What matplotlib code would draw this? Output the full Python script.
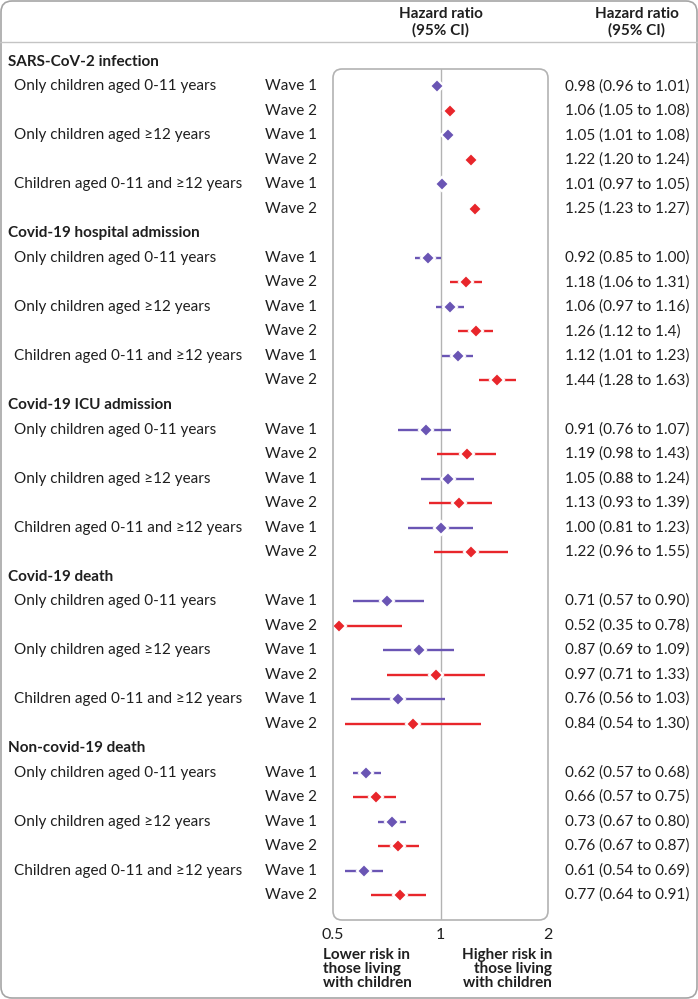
import matplotlib
matplotlib.use("Agg")
import matplotlib.pyplot as plt
from matplotlib.patches import FancyBboxPatch
from matplotlib.lines import Line2D
from matplotlib.ticker import NullLocator
import matplotlib.transforms as mtransforms

plt.rcParams['font.family'] = ['Lato', 'DejaVu Sans']

# ---- data ----
sections = ["SARS-CoV-2 infection", "Covid-19 hospital admission",
            "Covid-19 ICU admission", "Covid-19 death", "Non-covid-19 death"]
groups = ["Only children aged 0-11 years", "Only children aged \u226512 years",
          "Children aged 0-11 and \u226512 years"]
waves = ["Wave 1", "Wave 2"]

hr = [0.98, 1.06, 1.05, 1.22, 1.01, 1.25,
      0.92, 1.18, 1.06, 1.26, 1.12, 1.44,
      0.91, 1.19, 1.05, 1.13, 1.00, 1.22,
      0.71, 0.52, 0.87, 0.97, 0.76, 0.84,
      0.62, 0.66, 0.73, 0.76, 0.61, 0.77]
lo = [0.96, 1.05, 1.01, 1.20, 0.97, 1.23,
      0.85, 1.06, 0.97, 1.12, 1.01, 1.28,
      0.76, 0.98, 0.88, 0.93, 0.81, 0.96,
      0.57, 0.35, 0.69, 0.71, 0.56, 0.54,
      0.57, 0.57, 0.67, 0.67, 0.54, 0.64]
hi = [1.01, 1.08, 1.08, 1.24, 1.05, 1.27,
      1.00, 1.31, 1.16, 1.40, 1.23, 1.63,
      1.07, 1.43, 1.24, 1.39, 1.23, 1.55,
      0.90, 0.78, 1.09, 1.33, 1.03, 1.30,
      0.68, 0.75, 0.80, 0.87, 0.69, 0.91]
ci_text = ["0.98 (0.96 to 1.01)", "1.06 (1.05 to 1.08)", "1.05 (1.01 to 1.08)",
           "1.22 (1.20 to 1.24)", "1.01 (0.97 to 1.05)", "1.25 (1.23 to 1.27)",
           "0.92 (0.85 to 1.00)", "1.18 (1.06 to 1.31)", "1.06 (0.97 to 1.16)",
           "1.26 (1.12 to 1.4)", "1.12 (1.01 to 1.23)", "1.44 (1.28 to 1.63)",
           "0.91 (0.76 to 1.07)", "1.19 (0.98 to 1.43)", "1.05 (0.88 to 1.24)",
           "1.13 (0.93 to 1.39)", "1.00 (0.81 to 1.23)", "1.22 (0.96 to 1.55)",
           "0.71 (0.57 to 0.90)", "0.52 (0.35 to 0.78)", "0.87 (0.69 to 1.09)",
           "0.97 (0.71 to 1.33)", "0.76 (0.56 to 1.03)", "0.84 (0.54 to 1.30)",
           "0.62 (0.57 to 0.68)", "0.66 (0.57 to 0.75)", "0.73 (0.67 to 0.80)",
           "0.76 (0.67 to 0.87)", "0.61 (0.54 to 0.69)", "0.77 (0.64 to 0.91)"]

wave_colors = ["#6a55b4", "#e8262b"]
txt = "#1f1f1f"
grey = "#b3b3b3"

W, H = 698, 999
fig = plt.figure(figsize=(W / 100, H / 100), dpi=100)
fig.patch.set_facecolor("white")

# plot panel
ax = fig.add_axes([333 / W, 1 - 920 / H, 215 / W, 851 / H])
ax.set_xscale("log")
ax.set_xlim(0.5, 2)
ax.set_ylim(35.02, 0.286)
for s in ax.spines.values():
    s.set_visible(False)
ax.set_yticks([])
ax.set_xticks([0.5, 1, 2])
ax.set_xticklabels(["0.5", "1", "2"])
ax.xaxis.set_minor_locator(NullLocator())
ax.tick_params(axis="x", length=0, pad=6, labelsize=11.5, labelcolor=txt)
ax.axvline(1, color=grey, lw=1, zorder=1)

box = FancyBboxPatch((333 / W, 1 - 920 / H), 215 / W, 851 / H, transform=fig.transFigure,
                     boxstyle=f"round,pad=0,rounding_size={9 / W}", mutation_aspect=W / H,
                     fc="none", ec=grey, lw=1.2)
fig.add_artist(box)

# outer frame and header rule
frame = FancyBboxPatch((1 / W, 1 / H), (W - 2) / W, (H - 2) / H, transform=fig.transFigure,
                       boxstyle=f"round,pad=0,rounding_size={11 / W}", mutation_aspect=W / H,
                       fc="none", ec="#a5a5a5", lw=1.2)
fig.add_artist(frame)
fig.add_artist(Line2D([0, 1], [1 - 42 / H, 1 - 42 / H], transform=fig.transFigure,
                      color="#c4c4c4", lw=1))

trans = mtransforms.blended_transform_factory(fig.transFigure, ax.transData)

k = 0
for si, sec in enumerate(sections):
    base = 7 * si
    ax.text(8 / W, base, sec, transform=trans, fontsize=11, fontweight="bold",
            color=txt, va="center", ha="left")
    for gi, grp in enumerate(groups):
        for wi, wv in enumerate(waves):
            y = base + 1 + gi * 2 + wi
            if wi == 0:
                ax.text(14 / W, y, grp, transform=trans, fontsize=11, color=txt,
                        va="center", ha="left")
            ax.text(265 / W, y, wv, transform=trans, fontsize=11, color=txt,
                    va="center", ha="left")
            ax.text(565 / W, y, ci_text[k], transform=trans, fontsize=11, color=txt,
                    va="center", ha="left")
            c = wave_colors[wi]
            ax.plot([lo[k], hi[k]], [y, y], color=c, lw=1.7, solid_capstyle="butt", zorder=2)
            ax.plot([hr[k]], [y], marker="D", ms=7, color=c, mec="white", mew=1.6, zorder=3,
                    clip_on=False)
            k += 1

# column headers
for xc in (441, 637):
    fig.text(xc / W, 1 - 22 / H, "Hazard ratio\n(95% CI)", ha="center", va="center",
             fontsize=11, fontweight="bold", color=txt, linespacing=1.15)

# axis direction notes
fig.text(323 / W, 1 - 969 / H, "Lower risk in\nthose living\nwith children", ha="left",
         va="center", fontsize=11, fontweight="bold", color=txt, linespacing=1.0)
fig.text(552 / W, 1 - 969 / H, "Higher risk in\nthose living\nwith children", ha="right",
         va="center", fontsize=11, fontweight="bold", color=txt, linespacing=1.0)

fig.savefig("out.png", dpi=100, facecolor="white")
